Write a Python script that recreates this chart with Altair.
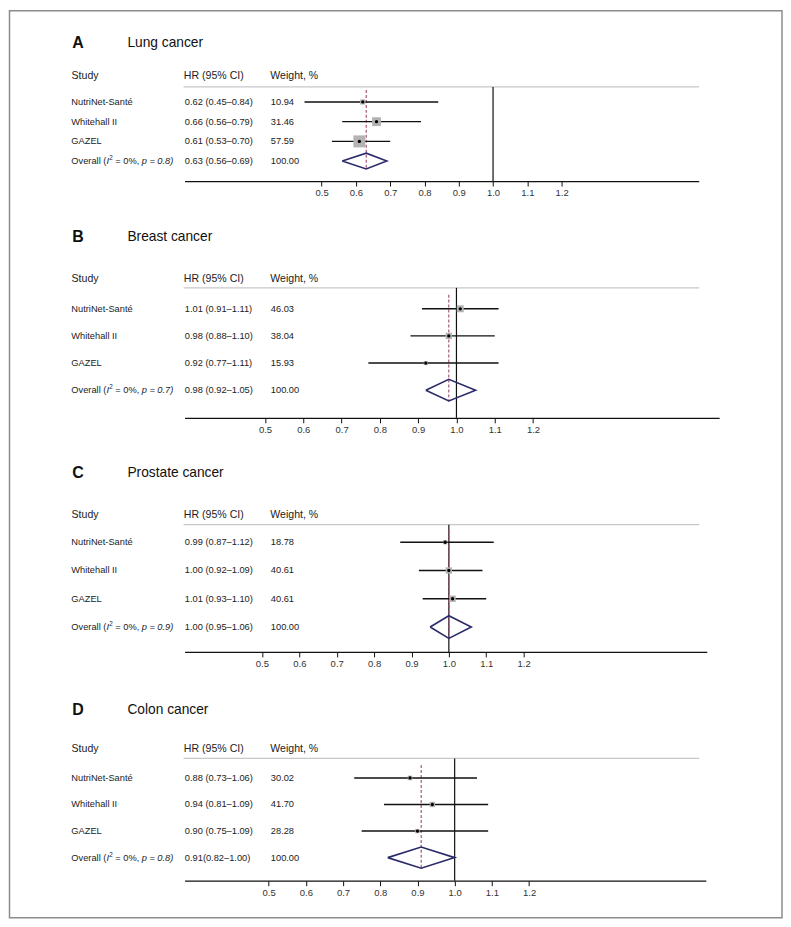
import altair as alt
import pandas as pd

FONT = "Liberation Sans"

studies = ["NutriNet-Santé", "Whitehall II", "GAZEL"]
tick_values = [0.5, 0.6, 0.7, 0.8, 0.9, 1.0, 1.1, 1.2]

# Panel A - Lung cancer
a_hr = [0.62, 0.66, 0.61]
a_lo = [0.45, 0.56, 0.53]
a_hi = [0.84, 0.79, 0.70]
a_w = [10.94, 31.46, 57.59]
a_overall = [0.63, 0.56, 0.69]
a_hr_txt = ["0.62 (0.45–0.84)", "0.66 (0.56–0.79)", "0.61 (0.53–0.70)", "0.63 (0.56–0.69)"]
a_w_txt = ["10.94", "31.46", "57.59", "100.00"]
a_p_txt = "p = 0.8)"

# Panel B - Breast cancer
b_hr = [1.01, 0.98, 0.92]
b_lo = [0.91, 0.88, 0.77]
b_hi = [1.11, 1.10, 1.11]
b_w = [46.03, 38.04, 15.93]
b_overall = [0.98, 0.92, 1.05]
b_hr_txt = ["1.01 (0.91–1.11)", "0.98 (0.88–1.10)", "0.92 (0.77–1.11)", "0.98 (0.92–1.05)"]
b_w_txt = ["46.03", "38.04", "15.93", "100.00"]
b_p_txt = "p = 0.7)"

# Panel C - Prostate cancer
c_hr = [0.99, 1.00, 1.01]
c_lo = [0.87, 0.92, 0.93]
c_hi = [1.12, 1.09, 1.10]
c_w = [18.78, 40.61, 40.61]
c_overall = [1.00, 0.95, 1.06]
c_hr_txt = ["0.99 (0.87–1.12)", "1.00 (0.92–1.09)", "1.01 (0.93–1.10)", "1.00 (0.95–1.06)"]
c_w_txt = ["18.78", "40.61", "40.61", "100.00"]
c_p_txt = "p = 0.9)"

# Panel D - Colon cancer
d_hr = [0.88, 0.94, 0.90]
d_lo = [0.73, 0.81, 0.75]
d_hi = [1.06, 1.09, 1.09]
d_w = [30.02, 41.70, 28.28]
d_overall = [0.91, 0.82, 1.00]
d_hr_txt = ["0.88 (0.73–1.06)", "0.94 (0.81–1.09)", "0.90 (0.75–1.09)", "0.91(0.82–1.00)"]
d_w_txt = ["30.02", "41.70", "28.28", "100.00"]
d_p_txt = "p = 0.8)"

headers = ["Study", "HR (95% CI)", "Weight, %"]
overall_parts = ["Overall (", "I", "2", "= 0%,"]


def panel(letter, name, hr, lo, hi, w, ov, p_txt, hr_txt, w_txt, cfg, frame=False):
    xs = alt.Scale(domain=cfg["dom"], nice=False, zero=False)
    ys = alt.Scale(domain=[cfg["t"], cfg["b"]], reverse=True, nice=False, zero=False)
    ax = alt.Axis(values=tick_values, format=".1f", title=None, grid=False,
                  domainColor="#111111", domainWidth=1.3, tickColor="#111111",
                  tickWidth=1, tickSize=5, labelPadding=2, labelFont=FONT,
                  labelFontSize=9.5, labelColor="#333333")
    H = cfg["h"]

    st = pd.DataFrame({"row": [1, 2, 3], "study": studies, "hr": hr, "lo": lo, "hi": hi, "w": w})
    st["sq"] = st["w"] * cfg["k"]
    tx = pd.DataFrame({"row": [1, 2, 3, 4], "hrtxt": hr_txt, "wtxt": w_txt})
    stx = pd.DataFrame({"row": [1, 2, 3], "study": studies})
    ovl = pd.DataFrame({"row": [4], "p0": [overall_parts[0]], "p1": [overall_parts[1]],
                        "p2": [overall_parts[2]], "p3": [overall_parts[3]], "p4": [p_txt]})
    ovd = pd.DataFrame({"hr": [ov[0]], "ytop": [cfg["t"] + cfg["dash0"]], "ybot": [4 + 0.42]})
    dd = 0.4
    dia = pd.DataFrame({"x": [ov[1], ov[0], ov[2], ov[0], ov[1]],
                        "row": [4, 4 - dd, 4, 4 + dd, 4], "o": [0, 1, 2, 3, 4]})
    ref = pd.DataFrame({"v": [1.0]})
    one = pd.DataFrame({"letter": [letter], "name": [name]})
    hd = pd.DataFrame({"h0": [headers[0]], "h1": [headers[1]], "h2": [headers[2]]})

    layers = []
    if frame:
        layers.append(alt.Chart(one).mark_rect(fill="transparent", stroke="#8c8c8c", strokeWidth=1.5).encode(
            x=alt.value(-175.5), x2=alt.value(599), y=alt.value(-76.5), y2=alt.value(833)))
    # title
    layers.append(alt.Chart(one).mark_text(align="left", baseline="middle", font=FONT, fontSize=16,
                                           fontWeight="bold", color="#111111").encode(
        x=alt.value(-112.5), y=alt.value(cfg["ty"]), text="letter:N"))
    layers.append(alt.Chart(one).mark_text(align="left", baseline="middle", font=FONT, fontSize=13.8,
                                           color="#111111").encode(
        x=alt.value(-57.3), y=alt.value(cfg["ty"]), text="name:N"))
    # headers
    for col, xv in zip(["h0", "h1", "h2"], [-113.3, -0.7, 86]):
        layers.append(alt.Chart(hd).mark_text(align="left", baseline="middle", font=FONT, fontSize=10.6,
                                              color="#222222").encode(
            x=alt.value(xv), y=alt.value(cfg["hy"]), text=f"{col}:N"))
    # header line
    layers.append(alt.Chart(one).mark_rule(color="#c8c8c8", strokeWidth=1.2).encode(
        x=alt.value(-1), x2=alt.value(516), y=alt.value(0)))
    # null line
    layers.append(alt.Chart(ref).mark_rule(color="#111111", strokeWidth=1.2).encode(
        x=alt.X("v:Q", scale=xs, axis=ax), y=alt.value(0), y2=alt.value(H)))
    # dashed overall line
    layers.append(alt.Chart(ovd).mark_rule(color="#9a4a70", strokeWidth=1.1, strokeDash=[3, 2]).encode(
        x=alt.X("hr:Q", scale=xs, axis=ax),
        y=alt.Y("ytop:Q", scale=ys, axis=None), y2="ybot:Q"))
    # CI lines
    layers.append(alt.Chart(st).mark_rule(color="#111111", strokeWidth=1.4).encode(
        x=alt.X("lo:Q", scale=xs, axis=ax), x2="hi:Q",
        y=alt.Y("row:Q", scale=ys, axis=None)))
    # weight squares
    layers.append(alt.Chart(st).mark_square(color="#b3b3b3", opacity=1).encode(
        x=alt.X("hr:Q", scale=xs, axis=ax), y=alt.Y("row:Q", scale=ys, axis=None),
        size=alt.Size("sq:Q", scale=None, legend=None)))
    # point estimates
    layers.append(alt.Chart(st).mark_circle(color="#000000", opacity=1, size=11).encode(
        x=alt.X("hr:Q", scale=xs, axis=ax), y=alt.Y("row:Q", scale=ys, axis=None)))
    # diamond
    layers.append(alt.Chart(dia).mark_line(color="#2b2b6b", strokeWidth=1.6).encode(
        x=alt.X("x:Q", scale=xs, axis=ax), y=alt.Y("row:Q", scale=ys, axis=None), order="o:Q"))
    # row texts
    layers.append(alt.Chart(stx).mark_text(align="left", baseline="middle", font=FONT, fontSize=9.3,
                                           color="#222222").encode(
        x=alt.value(-113.5), y=alt.Y("row:Q", scale=ys, axis=None), text="study:N"))
    for col, xv in zip(["hrtxt", "wtxt"], [0.3, 86.5]):
        layers.append(alt.Chart(tx).mark_text(align="left", baseline="middle", font=FONT, fontSize=9.3,
                                              color="#222222").encode(
            x=alt.value(xv), y=alt.Y("row:Q", scale=ys, axis=None), text=f"{col}:N"))
    # overall label with italic parts
    parts = [("p0", -113.5, "normal", 9.3, 0), ("p1", -78.2, "italic", 9.3, 0),
             ("p2", -75.4, "normal", 6.3, -3), ("p3", -69.4, "normal", 9.3, 0),
             ("p4", -43.0, "italic", 9.3, 0)]
    for col, xv, fs, size, dy in parts:
        layers.append(alt.Chart(ovl).mark_text(align="left", baseline="middle", font=FONT, fontSize=size,
                                               fontStyle=fs, dy=dy, color="#222222").encode(
            x=alt.value(xv), y=alt.Y("row:Q", scale=ys, axis=None), text=f"{col}:N"))

    return alt.layer(*layers).properties(width=cfg["w"], height=H)


cfgA = dict(dom=[0.1, 1.6], w=515.5, t=0.241, b=5.01, h=94.3, ty=-44.3, hy=-11, k=2.5, dash0=0.15)
cfgB = dict(dom=[0.29, 1.686], w=536, t=0.228, b=5.02, h=130.3, ty=-50.7, hy=-9, k=1.06, dash0=0.25)
cfgC = dict(dom=[0.293, 1.69], w=523.6, t=0.378, b=4.88, h=127.6, ty=-52, hy=-10, k=1.0, dash0=0.2)
cfgD = dict(dom=[0.274, 1.675], w=522.6, t=0.266, b=4.87, h=122.6, ty=-48.4, hy=-9, k=0.7, dash0=0.25)

pA = panel("A", "Lung cancer", a_hr, a_lo, a_hi, a_w, a_overall, a_p_txt, a_hr_txt, a_w_txt, cfgA, frame=True)
pB = panel("B", "Breast cancer", b_hr, b_lo, b_hi, b_w, b_overall, b_p_txt, b_hr_txt, b_w_txt, cfgB)
pC = panel("C", "Prostate cancer", c_hr, c_lo, c_hi, c_w, c_overall, c_p_txt, c_hr_txt, c_w_txt, cfgC)
pD = panel("D", "Colon cancer", d_hr, d_lo, d_hi, d_w, d_overall, d_p_txt, d_hr_txt, d_w_txt, cfgD)

chart = alt.vconcat(pA, pB, pC, pD, spacing=106.4, bounds="flush").resolve_scale(
    x="independent", y="independent", size="independent"
).properties(padding=0, background="white").configure_view(strokeWidth=0)

chart.save("out.html", embed_options={"renderer": "svg", "actions": False})
